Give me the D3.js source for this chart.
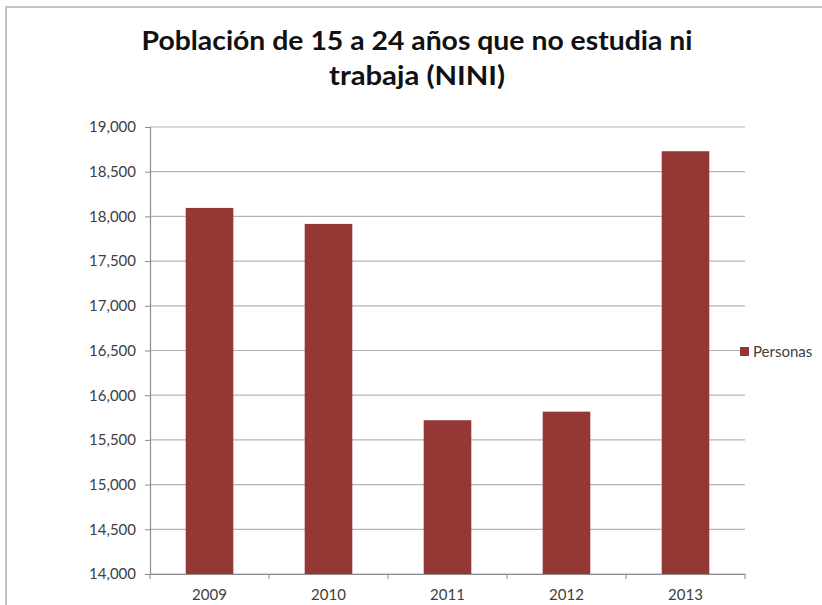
<!DOCTYPE html>
<html>
<head>
<meta charset="utf-8">
<script src="https://cdn.jsdelivr.net/npm/d3@7"></script>
<style>
  body { margin: 0; background: #fff; }
  text { font-family: Lato, 'Open Sans', sans-serif; }
</style>
</head>
<body>
<div id="chart"></div>
<script>
const years = ['2009', '2010', '2011', '2012', '2013']
const personas = [18095, 17916, 15720, 15816, 18729]
const yTicks = [14000, 14500, 15000, 15500, 16000, 16500, 17000, 17500, 18000, 18500, 19000]
const titleLines = ['Población de 15 a 24 años que no estudia ni', 'trabaja (NINI)']
const seriesName = 'Personas'

const width = 822
const height = 605
const margin = { top: 127, left: 150, right: 77, bottom: 31 }

const svg = d3
  .select('#chart')
  .append('svg')
  .attr('width', width)
  .attr('height', height)

// outer frame
svg
  .append('path')
  .attr('d', 'M6,' + height + ' V7 H' + width)
  .attr('fill', 'none')
  .attr('stroke', '#c3c3c3')
  .attr('stroke-width', 2)

const xPositionScale = d3
  .scaleBand()
  .domain(years)
  .range([margin.left, width - margin.right])

const yPositionScale = d3
  .scaleLinear()
  .domain([14000, 19000])
  .range([height - margin.bottom, margin.top])

// gridlines
svg
  .selectAll('.grid')
  .data(yTicks)
  .enter()
  .append('line')
  .attr('class', 'grid')
  .attr('x1', margin.left)
  .attr('x2', width - margin.right)
  .attr('y1', d => yPositionScale(d))
  .attr('y2', d => yPositionScale(d))
  .attr('stroke', '#b4b4b4')
  .attr('stroke-width', 1.2)

const barWidth = xPositionScale.bandwidth() * 0.4

svg
  .selectAll('.bar')
  .data(personas)
  .enter()
  .append('rect')
  .attr('class', 'bar')
  .attr('x', (d, i) => xPositionScale(years[i]) + (xPositionScale.bandwidth() - barWidth) / 2)
  .attr('width', barWidth)
  .attr('y', d => yPositionScale(d))
  .attr('height', d => yPositionScale(14000) - yPositionScale(d))
  .attr('fill', '#953735')

// y axis
const yAxis = d3
  .axisLeft(yPositionScale)
  .tickValues(yTicks)
  .tickFormat(d3.format(','))
  .tickSize(5)
  .tickPadding(9)

const yAxisG = svg
  .append('g')
  .attr('class', 'axis y-axis')
  .attr('transform', 'translate(' + margin.left + ',0)')
  .call(yAxis)

yAxisG.select('.domain').attr('stroke', '#8c8c8c').attr('stroke-width', 1.2)
yAxisG.selectAll('line').attr('stroke', '#8c8c8c')
yAxisG
  .selectAll('text')
  .attr('font-size', 15)
  .attr('fill', '#404040')
  .style('font-family', 'Lato, sans-serif')

// x axis
const xAxis = d3.axisBottom(xPositionScale).tickSize(0).tickPadding(15)

const xAxisG = svg
  .append('g')
  .attr('class', 'axis x-axis')
  .attr('transform', 'translate(0,' + (height - margin.bottom) + ')')
  .call(xAxis)

xAxisG.select('.domain').attr('stroke', '#8c8c8c').attr('stroke-width', 1.2)
xAxisG
  .selectAll('text')
  .attr('font-size', 15)
  .attr('fill', '#404040')
  .style('font-family', 'Lato, sans-serif')

// category boundary ticks
const boundaries = years.map(y => xPositionScale(y)).concat([width - margin.right])
xAxisG
  .selectAll('.cat-tick')
  .data(boundaries)
  .enter()
  .append('line')
  .attr('class', 'cat-tick')
  .attr('x1', d => d)
  .attr('x2', d => d)
  .attr('y1', 0)
  .attr('y2', 5)
  .attr('stroke', '#8c8c8c')

// title
svg
  .selectAll('.title')
  .data(titleLines)
  .enter()
  .append('text')
  .attr('class', 'title')
  .attr('x', 417)
  .attr('y', (d, i) => 50 + i * 35)
  .attr('text-anchor', 'middle')
  .attr('font-size', 26)
  .attr('font-weight', 'bold')
  .attr('fill', '#111')
  .attr('textLength', (d, i) => (i === 0 ? 551 : 176))
  .attr('lengthAdjust', 'spacingAndGlyphs')
  .text(d => d)

// legend
const legend = svg.append('g').attr('transform', 'translate(740,347)')
legend
  .append('rect')
  .attr('width', 9)
  .attr('height', 9)
  .attr('fill', '#953735')
legend
  .append('text')
  .attr('x', 13)
  .attr('y', 9.5)
  .attr('font-size', 15)
  .attr('fill', '#404040')
  .text(seriesName)
</script>
</body>
</html>
